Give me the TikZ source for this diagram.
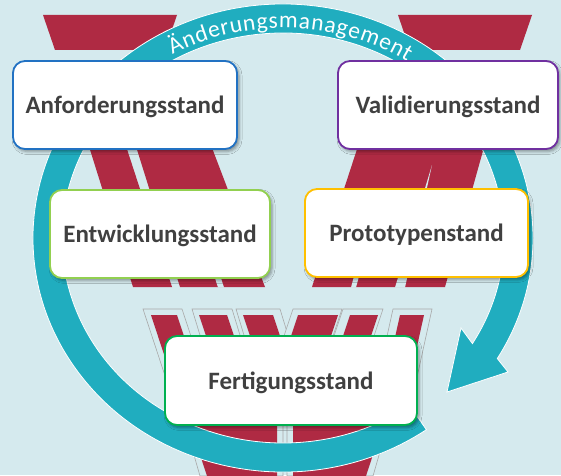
\documentclass[tikz,border=0pt]{standalone}
\usepackage{fontspec}
\setmainfont{Carlito}
\usetikzlibrary{decorations.text,shadows.blur,calc}
\definecolor{bgc}{HTML}{D5EAEE}
\definecolor{wred}{HTML}{AF2A43}
\definecolor{ringc}{HTML}{20ADBF}
\definecolor{txtc}{HTML}{404040}
\definecolor{cA}{HTML}{2272C3}
\definecolor{cV}{HTML}{7030A0}
\definecolor{cE}{HTML}{92D050}
\definecolor{cP}{HTML}{FFC000}
\definecolor{cF}{HTML}{00B050}
\definecolor{wgray}{HTML}{A8A8A8}
\begin{document}
\begin{tikzpicture}[x=1pt,y=1pt,
  stand/.style={draw, line width=1.8pt, fill=white, rounded corners=12pt,
    minimum height=88pt, inner sep=0pt, text=txtc, text depth=0pt,
    font=\fontsize{25pt}{25pt}\selectfont\bfseries,
    blur shadow={shadow xshift=2pt, shadow yshift=-2.5pt, shadow blur radius=3pt, shadow opacity=40}},
  redp/.style={fill=wred},
  outl/.style={draw=wgray, line width=0.6pt, fill=bgc}]
\fill[bgc] (0,0) rectangle (561,475);
\useasboundingbox (0,0) rectangle (561,475);
\begin{scope}[yshift=475pt, yscale=-1]
  % top bands
  \fill[redp] (43,15) -- (177,15) -- (165,50) -- (55,50) -- cycle;
  \fill[redp] (398,15) -- (532,15) -- (520,50) -- (410,50) -- cycle;
  % middle left
  \fill[redp] (87,140) -- (124,140) -- (172,287) -- (133,287) -- cycle;
  \fill[redp] (134,140) -- (209,140) -- (265,287) -- (180,287) -- cycle;
  \fill[bgc] (218,287.5) -- (224,287.5) -- (212,250) -- (206,250) -- cycle;
  % middle right
  \fill[redp] (360,140) -- (486,140) -- (445,287) -- (312,287) -- cycle;
  \fill[bgc] (351,287.5) -- (356,287.5) -- (366,250) -- (361,250) -- cycle;
  \fill[bgc] (432,165) -- (405,287.5) -- (395,287.5) -- cycle;
  % bottom W outlines
  \path[outl] (143,309) -- (182,309) -- (212,400) -- (173,400) -- cycle;
  \path[outl] (192,309) -- (232,309) -- (243,345) -- (203,345) -- cycle;
  \path[outl] (236,309) -- (280,309) -- (291,345) -- (247,345) -- cycle;
  \path[outl] (293,309) -- (342,309) -- (330,345) -- (281,345) -- cycle;
  \path[outl] (343,309) -- (383,309) -- (371,345) -- (331,345) -- cycle;
  \path[outl] (393,309) -- (432,309) -- (412,400) -- (373,400) -- cycle;
  \path[outl] (181,410) -- (283,410) -- (283,476) -- (200,476) -- cycle;
  \path[outl] (287,410) -- (392,410) -- (373,476) -- (287,476) -- cycle;
  % bottom W red
  \fill[redp] (151,315) -- (177,315) -- (205,400) -- (179,400) -- cycle;
  \fill[redp] (199,315) -- (227,315) -- (237,345) -- (209,345) -- cycle;
  \fill[redp] (243,315) -- (273,315) -- (283,345) -- (253,345) -- cycle;
  \fill[redp] (298,315) -- (338,315) -- (328,345) -- (288,345) -- cycle;
  \fill[redp] (350,315) -- (378,315) -- (368,345) -- (340,345) -- cycle;
  \fill[redp] (400,315) -- (424,315) -- (405,400) -- (381,400) -- cycle;
  \fill[redp] (188,418) -- (277,418) -- (277,476) -- (207,476) -- cycle;
  \fill[redp] (293,418) -- (385,418) -- (366,476) -- (293,476) -- cycle;
\end{scope}
% ring arrow
\coordinate (C) at (283,237);
\coordinate (tip) at (447,83);
\coordinate (barbO) at (508,103);
\coordinate (barbI) at (461,147);
\path[fill=ringc, draw=white, line width=0.8pt]
  ($(C)+(-55:250pt and 234pt)$) arc[start angle=-55, end angle=-391, x radius=250pt, y radius=234pt]
  -- (barbO) -- (tip) -- (barbI)
  -- ($(C)+(-391:221pt and 205pt)$) arc[start angle=-391, end angle=-55, x radius=221pt, y radius=205pt] -- cycle;
\path[decorate, decoration={text along path,
    text={|\fontsize{23.5pt}{23.5pt}\selectfont|Änderungsmanagement},
    text color=white, text align={fit to path}}]
  ($(C)+(119:228pt and 210pt)$) arc[start angle=119, end angle=57, x radius=228pt, y radius=210pt];
% boxes
\node[stand, draw=cA, minimum width=224pt] (anf) at (125,370) {Anforderungsstand};
\node[stand, draw=cV, minimum width=220pt] (val) at (448,370) {Validierungsstand};
\node[stand, draw=cE, minimum width=220pt] (ent) at (160,241) {Entwicklungsstand};
\node[stand, draw=cP, minimum width=223pt] (pro) at (416.5,242) {Prototypenstand};
\node[stand, draw=cF, minimum width=252pt, minimum height=89pt] (fer) at (291,94.5) {Fertigungsstand};
\end{tikzpicture}
\end{document}
